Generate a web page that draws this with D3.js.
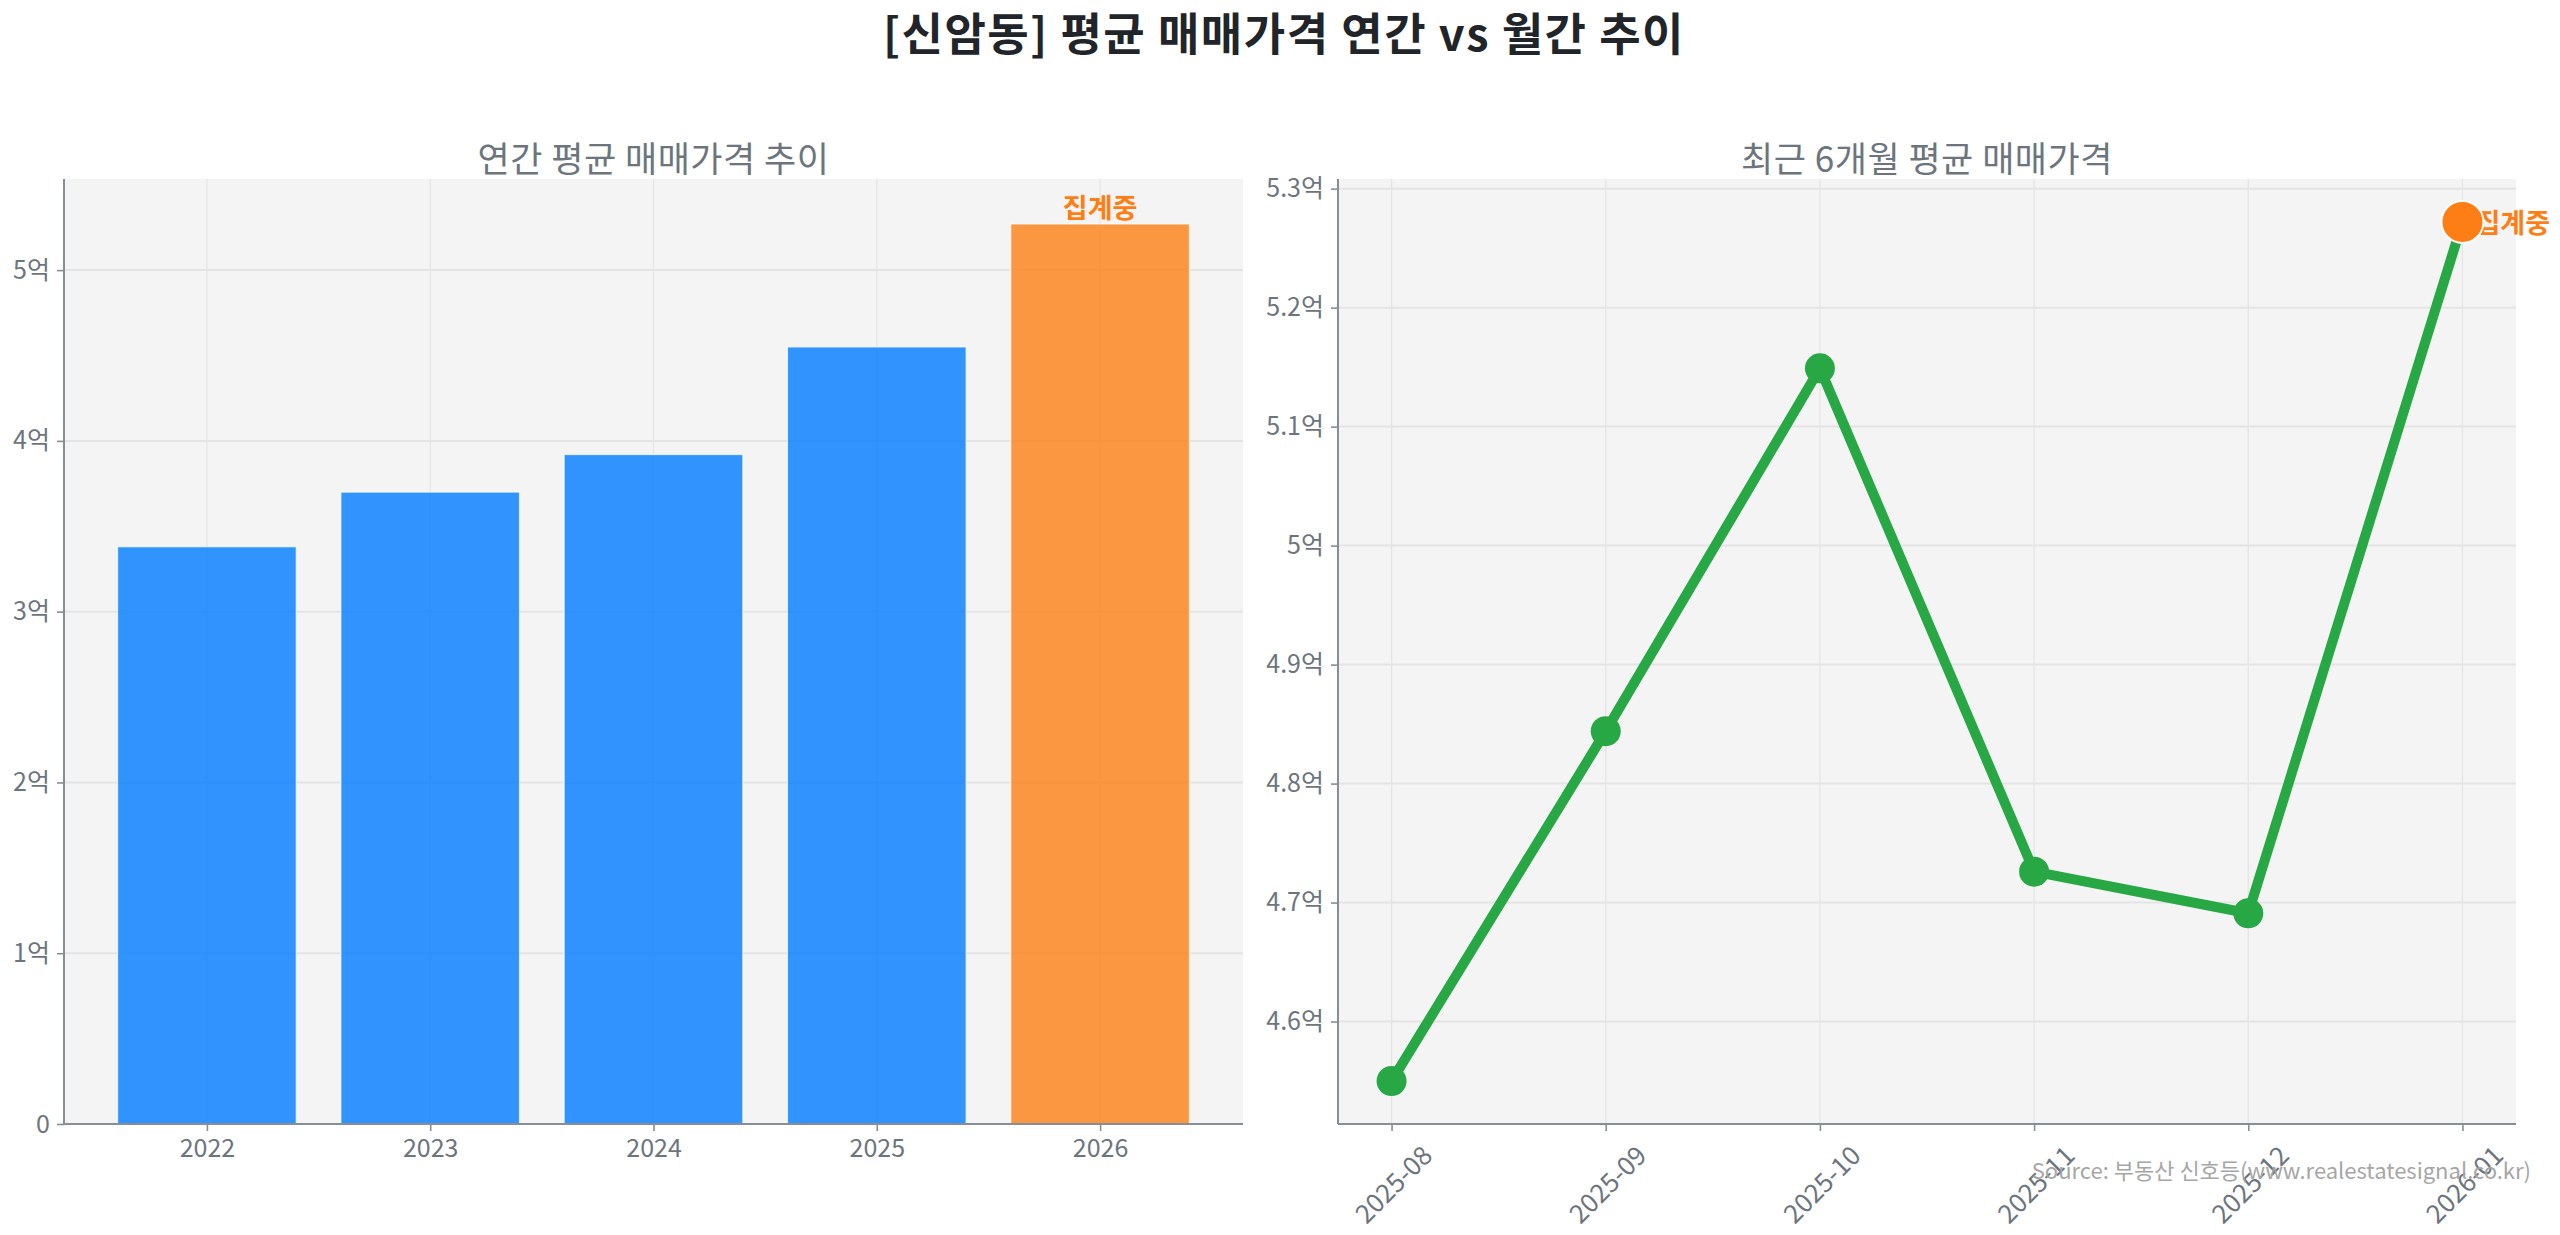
<!DOCTYPE html>
<html>
<head>
<meta charset="utf-8">
<script src="https://cdn.jsdelivr.net/npm/d3@7"></script>
<style>
  html, body { margin: 0; padding: 0; background: #ffffff; }
  svg { display: block; font-family: "Noto Sans CJK KR", "Noto Sans", sans-serif; }
</style>
</head>
<body>
<div id="chart"></div>
<script>
// ==================== DATA ====================
const years = ["2022", "2023", "2024", "2025", "2026"];
const yearAvg = [3.38, 3.70, 3.92, 4.55, 5.27]; // 억
const months = ["2025-08", "2025-09", "2025-10", "2025-11", "2025-12", "2026-01"];
const monthAvg = [4.550, 4.844, 5.149, 4.726, 4.691, 5.272]; // 억
const partialLabel = "집계중";

const mainTitle = "[신암동] 평균 매매가격 연간 vs 월간 추이";
const leftTitle = "연간 평균 매매가격 추이";
const rightTitle = "최근 6개월 평균 매매가격";
const sourceText = "Source: 부동산 신호등(www.realestatesignal.co.kr)";

// ==================== STYLE ====================
const W = 2560, H = 1235;
const colors = {
  blue: "#007bff",
  orange: "#fd7e14",
  green: "#28a745",
  plotBg: "#f4f4f4",
  grid: "#e4e4e4",
  spine: "#868e96",
  tick: "#6c757d",
  title: "#212529",
  source: "#a6a6a6",
};
const plotTop = 179, plotBottom = 1124;
const leftPanel = { x0: 64, x1: 1243 };
const rightPanel = { x0: 1338, x1: 2516 };

const fmtEok = (v) => (Math.abs(v) < 1e-9 ? "0" : `${+v.toFixed(1)}억`);

const svg = d3
  .select("#chart")
  .append("svg")
  .attr("width", W)
  .attr("height", H);

svg
  .append("text")
  .attr("x", W / 2 + 4)
  .attr("y", 31)
  .attr("text-anchor", "middle")
  .attr("dominant-baseline", "central")
  .attr("font-size", 45)
  .attr("letter-spacing", 1.5)
  .attr("font-weight", "bold")
  .attr("fill", colors.title)
  .text(mainTitle);

// ==================== helpers ====================
function drawFrame(g, x, y, xTicks, yTicks, title) {
  const [x0, x1] = x.range();
  g.append("rect")
    .attr("x", x0)
    .attr("y", plotTop)
    .attr("width", x1 - x0)
    .attr("height", plotBottom - plotTop)
    .attr("fill", colors.plotBg);

  // grid
  g.append("g")
    .selectAll("line")
    .data(xTicks)
    .join("line")
    .attr("x1", (d) => x(d))
    .attr("x2", (d) => x(d))
    .attr("y1", plotTop)
    .attr("y2", plotBottom)
    .attr("stroke", colors.grid)
    .attr("stroke-width", 1.2);
  g.append("g")
    .selectAll("line")
    .data(yTicks)
    .join("line")
    .attr("x1", x0)
    .attr("x2", x1)
    .attr("y1", (d) => y(d))
    .attr("y2", (d) => y(d))
    .attr("stroke", colors.grid)
    .attr("stroke-width", 2);

  g.append("text")
    .attr("x", (x0 + x1) / 2)
    .attr("y", 156)
    .attr("text-anchor", "middle")
    .attr("dominant-baseline", "central")
    .attr("font-size", 35)
    .attr("letter-spacing", 0.5)
    .attr("fill", colors.tick)
    .text(title);
}

function drawAxes(g, x, y, xTicks, xFmt, yTicks, rotate) {
  const [x0, x1] = x.range();
  const yAxis = d3
    .axisLeft(y)
    .tickValues(yTicks)
    .tickFormat(fmtEok)
    .tickSize(7)
    .tickPadding(7);
  const ga = g.append("g").attr("transform", `translate(${x0},0)`).call(yAxis);

  const xAxis = d3
    .axisBottom(x)
    .tickValues(xTicks)
    .tickFormat(xFmt)
    .tickSize(7)
    .tickPadding(8);
  const gb = g
    .append("g")
    .attr("transform", `translate(0,${plotBottom})`)
    .call(xAxis);

  [ga, gb].forEach((a) => {
    a.select(".domain").remove();
    a.selectAll(".tick line").attr("stroke", colors.spine).attr("stroke-width", 1.6);
    a.selectAll(".tick text")
      .attr("fill", colors.tick)
      .attr("font-size", 25)
      .attr("font-family", '"Noto Sans CJK KR", "Noto Sans", sans-serif');
  });

  if (rotate) {
    gb.selectAll(".tick text")
      .attr("font-size", 26)
      .attr("text-anchor", "middle")
      .attr("dominant-baseline", "central")
      .attr("dy", null)
      .attr("y", 0)
      .attr("transform", "translate(0,59) rotate(-45)");
  }

  // spines: left + bottom
  g.append("line")
    .attr("x1", x0).attr("x2", x0)
    .attr("y1", plotTop).attr("y2", plotBottom)
    .attr("stroke", colors.spine).attr("stroke-width", 2);
  g.append("line")
    .attr("x1", x0).attr("x2", x1)
    .attr("y1", plotBottom).attr("y2", plotBottom)
    .attr("stroke", colors.spine).attr("stroke-width", 2);
}

// ==================== LEFT: yearly bars ====================
const barW = 0.8;
const idxY = years.map((_, i) => i);
const lo = -barW / 2, hi = years.length - 1 + barW / 2;
const padL = (hi - lo) * 0.05;
const xL = d3.scaleLinear().domain([lo - padL, hi + padL]).range([leftPanel.x0, leftPanel.x1]);
const yL = d3.scaleLinear().domain([0, d3.max(yearAvg) * 1.05]).range([plotBottom, plotTop]);
const yLTicks = d3.range(0, Math.floor(d3.max(yearAvg)) + 1);

const gL = svg.append("g");
drawFrame(gL, xL, yL, idxY, yLTicks, leftTitle);

gL.append("g")
  .selectAll("rect")
  .data(yearAvg)
  .join("rect")
  .attr("x", (d, i) => xL(i - barW / 2))
  .attr("width", (d, i) => xL(i + barW / 2) - xL(i - barW / 2))
  .attr("y", (d) => yL(d))
  .attr("height", (d) => yL(0) - yL(d))
  .attr("fill", (d, i) => (i === years.length - 1 ? colors.orange : colors.blue))
  .attr("fill-opacity", 0.8)
  .attr("stroke", "#ffffff")
  .attr("stroke-opacity", 0.7)
  .attr("stroke-width", 1.2);

const lastY = years.length - 1;
gL.append("text")
  .attr("x", xL(lastY))
  .attr("y", yL(yearAvg[lastY]) - 6)
  .attr("text-anchor", "middle")
  .attr("font-size", 27)
  .attr("font-weight", "bold")
  .attr("fill", colors.orange)
  .text(partialLabel);

drawAxes(gL, xL, yL, idxY, (i) => years[i], yLTicks, false);

// ==================== RIGHT: monthly line ====================
const idxM = months.map((_, i) => i);
const nM = months.length - 1;
const xR = d3.scaleLinear().domain([-0.05 * nM, nM * 1.05]).range([rightPanel.x0, rightPanel.x1]);
const mExt = d3.extent(monthAvg);
const mPad = (mExt[1] - mExt[0]) * 0.05;
const yR = d3.scaleLinear().domain([mExt[0] - mPad, mExt[1] + mPad]).range([plotBottom, plotTop]);
const yRTicks = yR.ticks(8).filter((v) => v >= yR.domain()[0] && v <= yR.domain()[1]);

const gR = svg.append("g");
drawFrame(gR, xR, yR, idxM, yRTicks, rightTitle);

const line = d3
  .line()
  .x((d, i) => xR(i))
  .y((d) => yR(d));

gR.append("path")
  .datum(monthAvg)
  .attr("fill", "none")
  .attr("stroke", colors.green)
  .attr("stroke-width", 10)
  .attr("stroke-linejoin", "round")
  .attr("d", line);

gR.append("g")
  .selectAll("circle")
  .data(monthAvg.slice(0, nM))
  .join("circle")
  .attr("cx", (d, i) => xR(i))
  .attr("cy", (d) => yR(d))
  .attr("r", 15)
  .attr("fill", colors.green);

gR.append("text")
  .attr("x", xR(nM) + 13)
  .attr("y", yR(monthAvg[nM]))
  .attr("dominant-baseline", "central")
  .attr("font-size", 27)
  .attr("font-weight", "bold")
  .attr("fill", colors.orange)
  .text(partialLabel);

gR.append("circle")
  .attr("cx", xR(nM))
  .attr("cy", yR(monthAvg[nM]))
  .attr("r", 21)
  .attr("fill", colors.orange)
  .attr("stroke", "#ffffff")
  .attr("stroke-width", 2);

drawAxes(gR, xR, yR, idxM, (i) => months[i], yRTicks, true);

// ==================== SOURCE ====================
svg
  .append("text")
  .attr("x", 2531)
  .attr("y", 1169)
  .attr("text-anchor", "end")
  .attr("dominant-baseline", "central")
  .attr("font-size", 22)
  .attr("fill", colors.source)
  .text(sourceText);
</script>
</body>
</html>
